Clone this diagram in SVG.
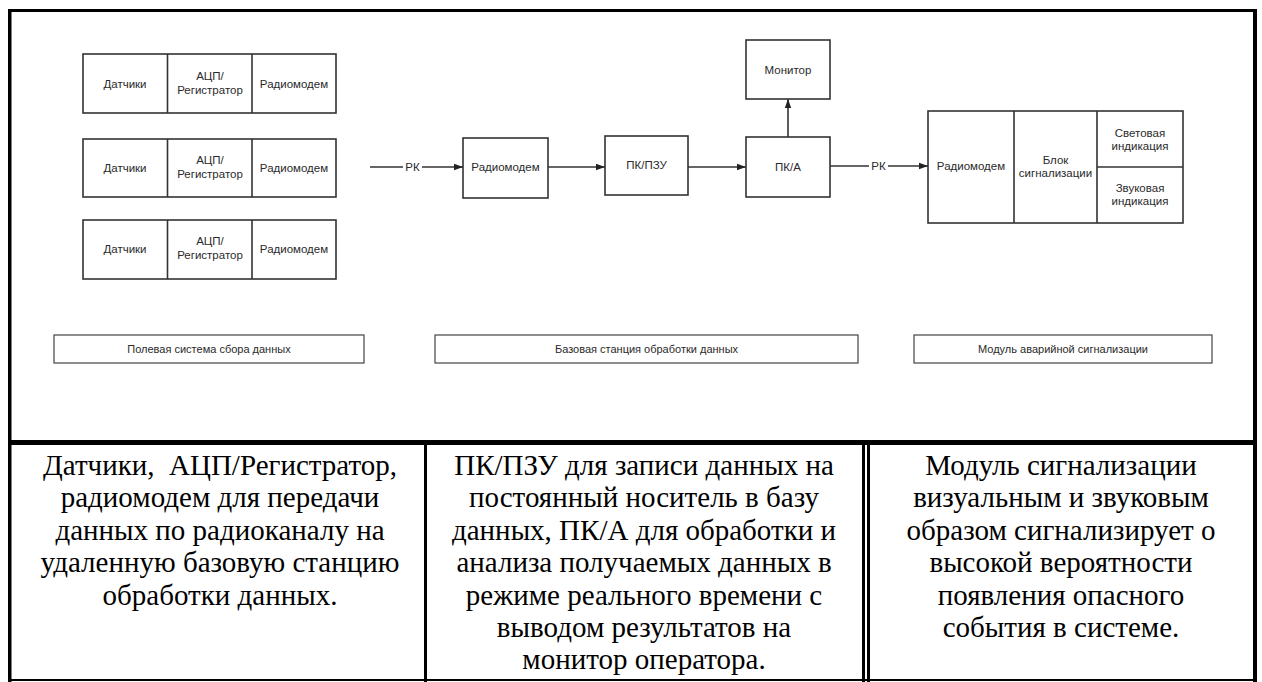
<svg xmlns="http://www.w3.org/2000/svg" width="1262" height="682" viewBox="0 0 1262 682">
<defs>
<style>
.bx{fill:#fff;stroke:#333;stroke-width:1.6}
.ln{fill:none;stroke:#333;stroke-width:1.6}
.lb{fill:#fff;stroke:#444;stroke-width:1.2}
.t{font-family:"Liberation Sans",Arial,sans-serif;font-size:11.5px;fill:#2a2a2a;text-anchor:middle}
.s{font-family:"Liberation Sans",Arial,sans-serif;font-size:11px;fill:#2a2a2a;text-anchor:middle}
.tb{font-size:29px;fill:#000;text-anchor:middle}
.fr{fill:#000}
</style>
<marker id="ah" markerWidth="10" markerHeight="8" refX="9" refY="4" orient="auto" markerUnits="userSpaceOnUse">
<path d="M0,0.8 L9,4 L0,7.2 Z" fill="#222"/>
</marker>
</defs>
<rect width="1262" height="682" fill="#fff"/>

<g id="frame">
<rect class="fr" x="8" y="9" width="1249" height="3"/>
<rect class="fr" x="8" y="9" width="3.5" height="673"/>
<rect class="fr" x="1253" y="9" width="4" height="673"/>
<rect class="fr" x="8" y="440" width="1249" height="5"/>
<rect class="fr" x="424" y="440" width="3" height="242"/>
<rect class="fr" x="862" y="440" width="3" height="242"/>
<rect class="fr" x="867" y="440" width="3" height="242"/>
<rect class="fr" x="8" y="679" width="1249" height="2"/>
</g>

<g id="field-row1">
<rect class="bx" x="83" y="54" width="253" height="59"/>
<line class="ln" x1="167.5" y1="54" x2="167.5" y2="113"/>
<line class="ln" x1="252" y1="54" x2="252" y2="113"/>
<text class="t" x="125" y="87.5">Датчики</text>
<text class="t" x="210" y="80">АЦП/</text>
<text class="t" x="210" y="94">Регистратор</text>
<text class="t" x="294" y="87.5">Радиомодем</text>
</g>
<g id="field-row2">
<rect class="bx" x="83" y="139" width="253" height="58"/>
<line class="ln" x1="167.5" y1="139" x2="167.5" y2="197"/>
<line class="ln" x1="252" y1="139" x2="252" y2="197"/>
<text class="t" x="125" y="171.5">Датчики</text>
<text class="t" x="210" y="164">АЦП/</text>
<text class="t" x="210" y="178">Регистратор</text>
<text class="t" x="294" y="171.5">Радиомодем</text>
</g>
<g id="field-row3">
<rect class="bx" x="83" y="220" width="253" height="59"/>
<line class="ln" x1="167.5" y1="220" x2="167.5" y2="279"/>
<line class="ln" x1="252" y1="220" x2="252" y2="279"/>
<text class="t" x="125" y="252.5">Датчики</text>
<text class="t" x="210" y="245">АЦП/</text>
<text class="t" x="210" y="259">Регистратор</text>
<text class="t" x="294" y="252.5">Радиомодем</text>
</g>

<g id="base-radiomodem">
<rect class="bx" x="463" y="138" width="85" height="60"/>
<text class="t" x="505.5" y="171">Радиомодем</text>
</g>
<g id="pc-pzu">
<rect class="bx" x="605" y="136" width="83" height="59"/>
<text class="t" x="646.5" y="169">ПК/ПЗУ</text>
</g>
<g id="pc-a">
<rect class="bx" x="746" y="137" width="84" height="60"/>
<text class="t" x="788" y="171">ПК/А</text>
</g>
<g id="monitor">
<rect class="bx" x="746" y="40" width="84" height="59"/>
<text class="t" x="788" y="73.5">Монитор</text>
</g>

<g id="alarm-module">
<rect class="bx" x="928" y="111" width="255" height="112"/>
<line class="ln" x1="1014" y1="111" x2="1014" y2="223"/>
<line class="ln" x1="1097" y1="111" x2="1097" y2="223"/>
<line class="ln" x1="1097" y1="167" x2="1183" y2="167"/>
<text class="t" x="971" y="170">Радиомодем</text>
<text class="t" x="1055.5" y="163.5">Блок</text>
<text class="t" x="1055.5" y="177">сигнализации</text>
<text class="t" x="1140" y="137">Световая</text>
<text class="t" x="1140" y="149.5">индикация</text>
<text class="t" x="1140" y="192">Звуковая</text>
<text class="t" x="1140" y="205">индикация</text>
</g>

<g id="connectors">
<line class="ln" x1="370" y1="167" x2="403" y2="167"/>
<text class="t" x="412.5" y="171">РК</text>
<line class="ln" x1="422" y1="167" x2="463" y2="167" marker-end="url(#ah)"/>
<line class="ln" x1="548" y1="167" x2="605" y2="167" marker-end="url(#ah)"/>
<line class="ln" x1="688" y1="167" x2="746" y2="167" marker-end="url(#ah)"/>
<line class="ln" x1="788" y1="137" x2="788" y2="99" marker-end="url(#ah)"/>
<line class="ln" x1="830" y1="166" x2="869" y2="166"/>
<text class="t" x="878.5" y="170">РК</text>
<line class="ln" x1="888" y1="166" x2="928" y2="166" marker-end="url(#ah)"/>
</g>

<g id="label-field">
<rect class="lb" x="54" y="335" width="310" height="28"/>
<text class="s" x="209" y="353">Полевая система сбора данных</text>
</g>
<g id="label-base">
<rect class="lb" x="435" y="335" width="423" height="28"/>
<text class="s" x="646.5" y="353">Базовая станция обработки данных</text>
</g>
<g id="label-alarm">
<rect class="lb" x="914" y="335" width="298" height="28"/>
<text class="s" x="1063" y="353">Модуль аварийной сигнализации</text>
</g>

<g id="desc-col1" style="font-family:'DejaVu Serif','Liberation Serif',serif">
<text class="tb" x="220" y="475" xml:space="preserve" style="font-family:'Liberation Serif','DejaVu Serif',serif">Датчики,  АЦП/Регистратор,</text>
<text class="tb" x="220" y="507.4" style="font-family:'Liberation Serif','DejaVu Serif',serif">радиомодем для передачи</text>
<text class="tb" x="220" y="539.8" style="font-family:'Liberation Serif','DejaVu Serif',serif">данных по радиоканалу на</text>
<text class="tb" x="220" y="572.2" style="font-family:'Liberation Serif','DejaVu Serif',serif">удаленную базовую станцию</text>
<text class="tb" x="220" y="604.6" style="font-family:'Liberation Serif','DejaVu Serif',serif">обработки данных.</text>
</g>
<g id="desc-col2" style="font-family:'Liberation Serif','DejaVu Serif',serif">
<text class="tb" x="644" y="475" style="font-family:'Liberation Serif','DejaVu Serif',serif">ПК/ПЗУ для записи данных на</text>
<text class="tb" x="644" y="507.4" style="font-family:'Liberation Serif','DejaVu Serif',serif">постоянный носитель в базу</text>
<text class="tb" x="644" y="539.8" style="font-family:'Liberation Serif','DejaVu Serif',serif">данных, ПК/А для обработки и</text>
<text class="tb" x="644" y="572.2" style="font-family:'Liberation Serif','DejaVu Serif',serif">анализа получаемых данных в</text>
<text class="tb" x="644" y="604.6" style="font-family:'Liberation Serif','DejaVu Serif',serif">режиме реального времени с</text>
<text class="tb" x="644" y="637" style="font-family:'Liberation Serif','DejaVu Serif',serif">выводом результатов на</text>
<text class="tb" x="644" y="669.4" style="font-family:'Liberation Serif','DejaVu Serif',serif">монитор оператора.</text>
</g>
<g id="desc-col3" style="font-family:'Liberation Serif','DejaVu Serif',serif">
<text class="tb" x="1061" y="475" style="font-family:'Liberation Serif','DejaVu Serif',serif">Модуль сигнализации</text>
<text class="tb" x="1061" y="507.4" style="font-family:'Liberation Serif','DejaVu Serif',serif">визуальным и звуковым</text>
<text class="tb" x="1061" y="539.8" style="font-family:'Liberation Serif','DejaVu Serif',serif">образом сигнализирует о</text>
<text class="tb" x="1061" y="572.2" style="font-family:'Liberation Serif','DejaVu Serif',serif">высокой вероятности</text>
<text class="tb" x="1061" y="604.6" style="font-family:'Liberation Serif','DejaVu Serif',serif">появления опасного</text>
<text class="tb" x="1061" y="637" style="font-family:'Liberation Serif','DejaVu Serif',serif">события в системе.</text>
</g>
</svg>
